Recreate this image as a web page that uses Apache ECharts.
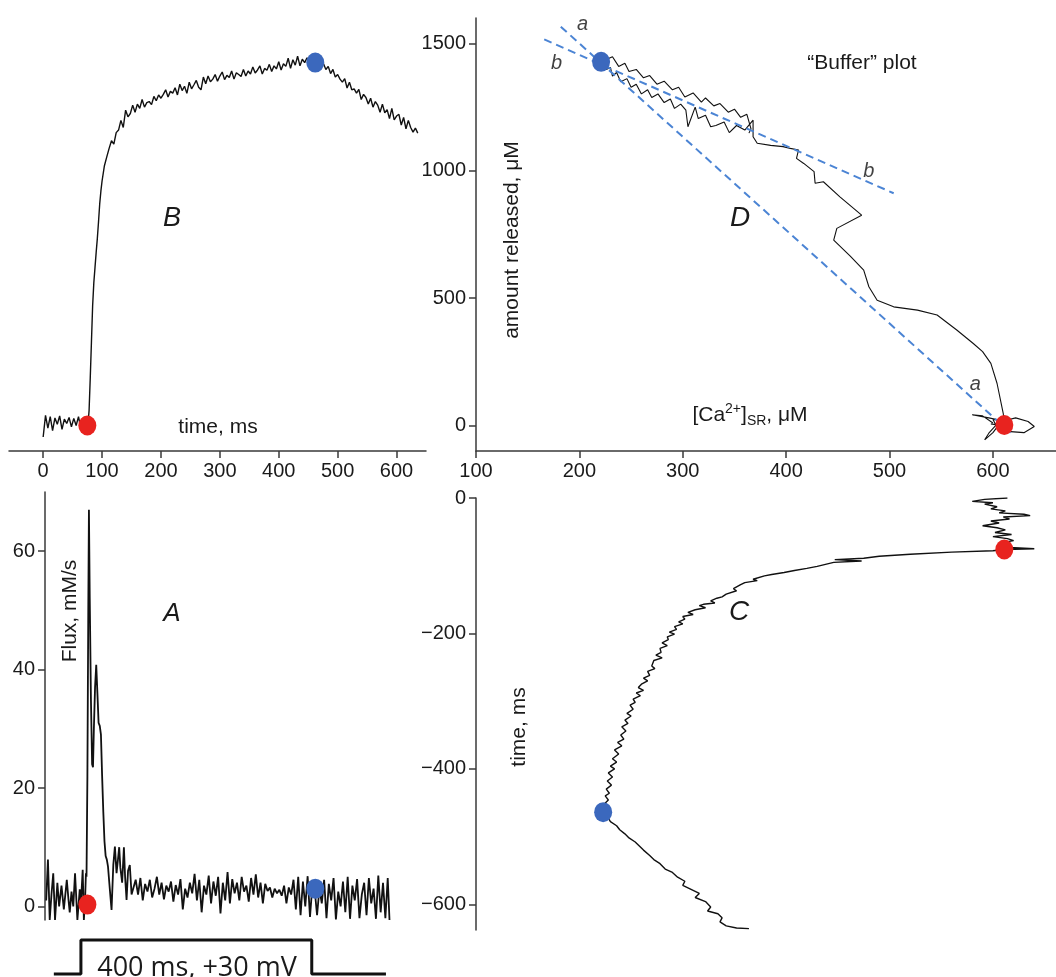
<!DOCTYPE html>
<html>
<head>
<meta charset="utf-8">
<script src="https://cdn.jsdelivr.net/npm/echarts@6/dist/echarts.min.js"></script>
<style>
  html, body { margin: 0; padding: 0; background: #ffffff; }
  #chart { width: 1056px; height: 977px; }
</style>
</head>
<body>
<div id="chart"></div>
<script>
// ---- Data ---------------------------------------------------------------

// Panel B: amount released (µM) vs time (ms)
const bTrace = [
  [0,-45],[4,40],[8,-10],[12,35],[16,-20],[20,30],[24,5],[28,38],[32,-15],[36,25],[40,8],[44,32],
  [48,-5],[52,28],[56,0],[60,35],[64,-12],[68,30],[72,-15],[76,0],[78,60],[80,190],[82,330],[84,470],
  [86,560],[88,620],[90,680],[92,735],[94,800],[96,870],[98,920],[100,960],[104,1020],[108,1055],
  [112,1088],[116,1118],[120,1105],[124,1150],[128,1160],[132,1198],[136,1170],[140,1238],[144,1212],
  [148,1225],[152,1258],[156,1230],[160,1262],[164,1245],[168,1280],[172,1250],[176,1268],[180,1272],
  [184,1260],[188,1292],[192,1275],[196,1298],[200,1285],[204,1300],[208,1318],[212,1290],[216,1312],
  [220,1305],[224,1326],[228,1298],[232,1340],[236,1315],[240,1332],[244,1304],[248,1348],[252,1322],
  [256,1338],[260,1355],[264,1328],[268,1318],[272,1368],[276,1342],[280,1372],[284,1350],[288,1360],
  [292,1378],[296,1352],[300,1372],[304,1388],[308,1358],[312,1375],[316,1366],[320,1392],[324,1360],
  [328,1385],[332,1378],[336,1370],[340,1398],[344,1372],[348,1392],[352,1380],[356,1408],[360,1384],
  [364,1396],[368,1412],[372,1380],[376,1402],[380,1395],[384,1418],[388,1390],[392,1412],[396,1400],
  [400,1428],[404,1396],[408,1420],[412,1410],[416,1442],[420,1402],[424,1436],[428,1415],[432,1450],
  [436,1412],[440,1438],[444,1425],[448,1444],[452,1418],[456,1440],[460,1426],[464,1430],[468,1424],
  [472,1415],[476,1420],[480,1398],[484,1410],[488,1382],[492,1398],[496,1368],[500,1378],[504,1360],
  [508,1348],[512,1362],[516,1325],[520,1348],[524,1318],[528,1322],[532,1305],[536,1320],[540,1280],
  [544,1300],[548,1288],[552,1262],[556,1285],[560,1250],[564,1272],[568,1258],[572,1230],[576,1262],
  [580,1228],[584,1240],[588,1205],[592,1245],[596,1200],[600,1215],[604,1222],[608,1180],[612,1210],
  [616,1165],[620,1198],[624,1170],[628,1152],[632,1168],[636,1148]
];

// Panel A: release flux (mM/s) vs time (ms)
const aTrace = [
  [5,1],[8,7.9],[11,-2.3],[14,2],[17,5.6],[20,-2.3],[24,4],[27,0],[31,3.5],[35,-0.5],[40,4.5],[43,1],
  [45,-1],[48,2.5],[51,0],[54,5.6],[58,-2.3],[62,2.9],[64,0.5],[67,6.2],[69,-2.3],[71,1],[72.5,5.6],
  [73.5,5],[75,22],[76.5,50],[77.6,67],[79,52],[81,35],[83,24],[84.5,23.5],[86,30],[88,37],[90,40.8],
  [92,36],[94,31],[96,30.5],[98,29],[100,22],[102,16],[104,11],[106,8.5],[108,7.9],[110,6.7],[113,3],
  [116,-0.6],[119,7],[121.7,10.1],[124.5,5.6],[127,8],[129,10],[131,6.5],[134,4],[137,10],[139,5],
  [141.5,1.1],[144,6],[147,7],[150,2],[153,1.7],[157,4.5],[161,2],[165,4.8],[169,1],[173,3.8],[177,2.5],
  [181,4.5],[185,1.5],[189,3],[193,5],[197,2],[201,4],[205,1.2],[209,3.5],[213,2.5],[217,4.2],[221,0.8],
  [225,3.6],[229,2],[233,4.6],[237,-0.5],[241,3],[245,1.5],[249,4],[253,2.2],[257,5.5],[261,1],[265,4.5],
  [269,-1],[273,3.5],[277,2],[281,5.2],[285,0.5],[289,4.2],[293,1.8],[297,5],[301,-1.2],[305,4],[309,1],
  [313,5.8],[317,0.5],[321,4.6],[325,2.2],[329,4],[333,1],[337,5],[341,2.5],[345,3.5],[349,0.8],[353,4.8],
  [357,2],[361,5.4],[365,1.5],[369,4],[373,0.5],[377,3.8],[381,2.6],[385,3.2],[389,1.5],[393,3],[397,2.2],
  [401,2.8],[405,1.8],[409,3.5],[413,0.5],[417,3.2],[421,2],[425,4.5],[429,-0.5],[433,5],[437,-1.5],
  [441,4.2],[445,0],[449,5.1],[453,-1.8],[457,3.5],[461,2.8],[465,-1.5],[469,3],[473,0.5],[477,4.5],
  [481,-2],[485,3.8],[489,1],[493,4.8],[497,-2.2],[501,2.5],[505,0],[509,4.2],[513,-1],[517,5],[521,-2.1],
  [525,3.5],[529,1],[533,4.6],[537,-2],[541,2],[545,4],[549,-1.5],[553,4.8],[557,0.5],[561,3],[565,-2.1],
  [569,5.2],[573,-1],[577,4],[581,-2],[585,4.8],[588,-2.3]
];

// Panel C: [Ca2+]SR (µM) vs time (ms, plotted downward)
const cTrace = [
  [614,0],[592,-2],[580,-5],[600,-7],[592,-9],[604,-13],[598,-16],[612,-19],[606,-22],[630,-24],
  [636,-26],[610,-28],[616,-31],[598,-34],[606,-37],[590,-41],[604,-44],[612,-47],[602,-51],[618,-54],
  [600,-57],[614,-60],[620,-63],[608,-66],[612,-70],[616,-73],[640,-75],[611,-76],[600,-78],[560,-80],
  [520,-83],[490,-86],[475,-89],[447,-91],[473,-93],[446,-95],[438,-98],[430,-101],[420,-104],[408,-107],
  [398,-110],[386,-113],[379,-115],[368,-120],[372,-122],[360,-125],[356,-128],[349,-134],[352,-137],
  [342,-142],[338,-146],[333,-148],[327,-152],[331,-155],[320,-157],[316,-159],[322,-162],[312,-165],
  [305,-169],[310,-172],[300,-175],[302,-179],[296,-183],[300,-186],[292,-190],[294,-194],[287,-198],
  [292,-201],[285,-205],[286,-209],[280,-214],[285,-218],[278,-222],[279,-228],[274,-232],[280,-236],
  [272,-240],[270,-248],[273,-252],[266,-256],[268,-262],[262,-266],[266,-270],[260,-275],[257,-280],
  [262,-284],[255,-288],[259,-292],[252,-297],[254,-302],[249,-306],[252,-312],[246,-318],[250,-322],
  [244,-328],[247,-333],[241,-338],[245,-344],[240,-350],[243,-356],[237,-361],[241,-366],[234,-372],
  [238,-378],[232,-385],[236,-390],[230,-396],[234,-400],[228,-406],[232,-412],[227,-418],[231,-424],
  [226,-430],[229,-436],[225,-440],[228,-446],[224,-452],[227,-458],[223,-464],[227,-470],[230,-478],
  [236,-484],[239,-490],[244,-496],[248,-502],[254,-508],[258,-514],[262,-520],[268,-528],[272,-534],
  [278,-540],[283,-548],[290,-553],[295,-560],[302,-566],[300,-572],[308,-578],[316,-584],[312,-590],
  [322,-596],[327,-604],[324,-610],[334,-614],[338,-620],[336,-626],[342,-632],[352,-635],[364,-636]
];

// Panel D: amount released (µM) vs [Ca2+]SR (µM), the "buffer" plot
const dTrace = [
  [600,10],[590,38],[580,42],[596,30],[606,22],[603,2],[596,-30],[592,-56],[600,-28],[604,-6],[600,24],
  [612,20],[622,30],[634,16],[640,-4],[630,-28],[617,-24],[610,-2],[598,6],[611,2],
  [610,47],[604,165],[598,244],[590,290],[581,322],[565,375],[546,434],[527,453],[504,466],[488,492],
  [480,545],[475,610],[462,665],[446,728],[449,774],[473,826],[452,898],[436,957],[428,951],[427,997],
  [417,1029],[410,1049],[412,1082],[404,1088],[397,1095],[385,1100],[372,1108],[368,1134],[368,1199],
  [360,1160],[352,1178],[345,1150],[340,1192],[332,1178],[327,1173],[322,1218],[315,1205],[312,1250],
  [305,1173],[303,1238],[298,1262],[292,1245],[288,1282],[282,1268],[276,1302],[270,1288],[266,1318],
  [260,1302],[255,1340],[250,1328],[246,1362],[240,1350],[236,1386],[232,1372],[230,1406],[226,1398],
  [224,1420],[221,1428],
  [232,1448],[238,1410],[244,1422],[248,1390],[255,1398],[262,1365],[268,1374],[275,1340],[282,1352],
  [290,1318],[296,1328],[302,1290],[310,1306],[318,1270],[322,1286],[330,1255],[336,1264],[344,1230],
  [350,1242],[356,1210],[362,1222],[366,1165],[364,1148]
];

// Fitted lines in the buffer plot
const lineA = [[182,1566],[620,-39]];
const lineB = [[166,1516],[504,912]];
const lineTags = [
  { name: 'a', value: [203,1575] },
  { name: 'b', value: [178,1423] },
  { name: 'b', value: [480,996] },
  { name: 'a', value: [583,160] }
];

// Voltage step protocol (relative level)
const stimTrace = [[18,0],[64,0],[64,1],[456,1],[456,0],[582,0]];

// Start of release (red) and peak of amount released (blue)
const redB = [75,0],     blueB = [462,1425];
const redA = [75,0.3],   blueA = [462,3];
const redC = [611,-76],  blueC = [223,-464];
const redD = [611,2],    blueD = [221,1428];

// Tick values
const timeTicks = [0,100,200,300,400,500,600];
const caTicks = [100,200,300,400,500,600];
const amountTicks = [0,500,1000,1500];
const fluxTicks = [0,20,40,60];
const negTimeTicks = [0,-200,-400,-600];

// ---- Chart --------------------------------------------------------------
const FONT = '"Liberation Sans", Arial, Helvetica, sans-serif';
const RED = '#e8231f', BLUE = '#3b68bd', DASH = '#4b84d4', INK = '#111111', AX = '#3a3a3a';

function shownAxis(extra, ticks, fmt) {
  return Object.assign({
    type: 'value',
    splitLine: { show: false },
    axisLine: { show: true, onZero: false, lineStyle: { color: AX, width: 1.5 } },
    axisTick: { show: true, length: 7, customValues: ticks, lineStyle: { color: AX, width: 1.5 } },
    axisLabel: { color: '#1a1a1a', fontSize: 20, fontFamily: FONT, margin: 10,
                 customValues: ticks, formatter: fmt || (v => String(v)) }
  }, extra);
}
function hiddenAxis(extra) {
  return Object.assign({ type: 'value', show: false, splitLine: { show: false } }, extra);
}
function trace(data, xi, w, extra) {
  return Object.assign({
    type: 'line', data: data, xAxisIndex: xi, yAxisIndex: xi,
    showSymbol: false, symbol: 'none', smooth: false,
    lineStyle: { color: INK, width: w }, z: 3
  }, extra || {});
}
function dots(red, blue, xi) {
  return {
    type: 'scatter', xAxisIndex: xi, yAxisIndex: xi, symbolSize: [18, 20], z: 6,
    itemStyle: { opacity: 1 },
    emphasis: { disabled: true },
    data: [
      { value: red, itemStyle: { color: RED, opacity: 1 } },
      { value: blue, itemStyle: { color: BLUE, opacity: 1 } }
    ]
  };
}
function txt(x, y, text, font, extra) {
  return Object.assign({
    type: 'text', x: x, y: y, z: 10,
    style: { text: text, font: font, fill: '#1a1a1a', textAlign: 'center', textVerticalAlign: 'middle' }
  }, extra || {});
}

const chart = echarts.init(document.getElementById('chart'), null, { renderer: 'canvas' });

chart.setOption({
  animation: false,
  backgroundColor: '#ffffff',
  textStyle: { fontFamily: FONT },
  grid: [
    { left: 9,   top: 18,  width: 417, height: 433 },  // B
    { left: 476, top: 18,  width: 580, height: 433 },  // D
    { left: 45,  top: 492, width: 381, height: 428 },  // A
    { left: 476, top: 498, width: 580, height: 432 },  // C
    { left: 45,  top: 940, width: 381, height: 34 }    // step protocol
  ],
  xAxis: [
    shownAxis({ gridIndex: 0, min: -58, max: 650 }, timeTicks),
    shownAxis({ gridIndex: 1, min: 100, max: 661 }, caTicks),
    hiddenAxis({ gridIndex: 2, min: 3, max: 650 }),
    hiddenAxis({ gridIndex: 3, min: 100, max: 661 }),
    hiddenAxis({ gridIndex: 4, min: 3, max: 650 })
  ],
  yAxis: [
    hiddenAxis({ gridIndex: 0, min: -100, max: 1600 }),
    shownAxis({ gridIndex: 1, min: -100, max: 1600 }, amountTicks),
    shownAxis({ gridIndex: 2, min: -2.3, max: 70 }, fluxTicks),
    shownAxis({ gridIndex: 3, min: -638, max: 0 }, negTimeTicks,
              v => (v < 0 ? '\u2212' + Math.abs(v) : String(v))),
    hiddenAxis({ gridIndex: 4, min: 0, max: 1 })
  ],
  series: [
    trace(bTrace, 0, 1.4),
    trace(dTrace, 1, 1.1),
    trace(lineA, 1, 2, { lineStyle: { color: DASH, width: 2, type: [8, 5] }, z: 4 }),
    trace(lineB, 1, 2, { lineStyle: { color: DASH, width: 2, type: [8, 5] }, z: 4 }),
    trace(aTrace, 2, 1.8),
    trace(cTrace, 3, 1.4),
    trace(stimTrace, 4, 3, { clip: false }),
    dots(redB, blueB, 0),
    dots(redD, blueD, 1),
    dots(redA, blueA, 2),
    dots(redC, blueC, 3),
    {
      type: 'scatter', xAxisIndex: 1, yAxisIndex: 1, symbolSize: 0, z: 7,
      data: lineTags,
      label: { show: true, position: 'inside', formatter: p => p.name,
               fontSize: 20, fontStyle: 'italic', fontFamily: FONT, color: '#111111' }
    }
  ],
  graphic: [
    txt(218, 427, 'time, ms', '21px ' + FONT),
    {
      type: 'text', x: 750, y: 415, z: 10,
      style: {
        text: '[Ca{sup|2+}]{sub|SR}, μM',
        font: '21px ' + FONT, fill: '#1a1a1a', textAlign: 'center', textVerticalAlign: 'middle',
        rich: {
          sup: { fontSize: 14, fontFamily: FONT, padding: [0, 0, 12, 0] },
          sub: { fontSize: 14, fontFamily: FONT, padding: [12, 0, 0, 0] }
        }
      }
    },
    txt(512, 240, 'amount released, μM', '21px ' + FONT, { rotation: Math.PI / 2 }),
    txt(70, 611, 'Flux, mM/s', '21px ' + FONT, { rotation: Math.PI / 2 }),
    txt(519, 727, 'time, ms', '21px ' + FONT, { rotation: Math.PI / 2 }),
    txt(862, 63, '\u201cBuffer\u201d plot', '21px ' + FONT),
    txt(172, 218, 'B', 'italic 27px ' + FONT),
    txt(740, 218, 'D', 'italic 28px ' + FONT),
    txt(172, 614, 'A', 'italic 26px ' + FONT),
    txt(739, 612, 'C', 'italic 28px ' + FONT),
    txt(197, 968, '400 ms, +30 mV', '27px "Open Sans", "Noto Sans", sans-serif')
  ]
});
</script>
</body>
</html>
